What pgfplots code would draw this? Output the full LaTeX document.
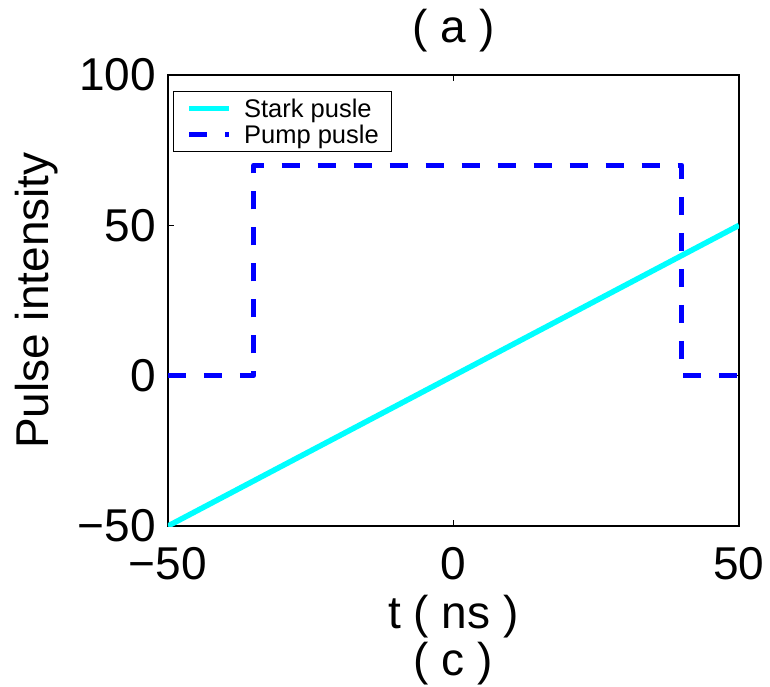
\documentclass[border=0pt]{standalone}
\usepackage{fontspec}
\setmainfont{Liberation Sans}
\usepackage{pgfplots}
\pgfplotsset{compat=1.18}
\usetikzlibrary{calc}
\definecolor{mcyan}{rgb}{0,1,1}
\definecolor{mblue}{rgb}{0,0,1}
\newcommand\bigf{\fontsize{46}{47}\selectfont}
\begin{document}
\begin{tikzpicture}
\begin{axis}[
  scale only axis,
  width=571pt, height=451pt,
  xmin=-50, xmax=50, ymin=-50, ymax=100,
  xtick={-50,0,50}, xticklabels={−50,0,50},
  ytick={-50,0,50,100}, yticklabels={−50,0,50,100},
  tick align=inside,
  major tick length=6pt,
  every tick/.style={black, line width=1pt},
  axis line style={black, line width=1.3pt},
  xticklabel style={font=\bigf, inner sep=0pt, yshift=-21pt},
  yticklabel style={font=\bigf, inner sep=0pt, xshift=-12pt},
  title={( a )},
  title style={font=\bigf, inner sep=0pt, anchor=north, at={($(rel axis cs:0.5,1)+(0,60pt)$)}},
  xlabel={t ( ns )\\( c )},
  xlabel style={font=\bigf, align=center, inner sep=0pt, anchor=north, at={($(rel axis cs:0.5,0)+(0,-69pt)$)}},
  ylabel={Pulse intensity},
  ylabel style={font=\bigf, inner sep=0pt, anchor=north, at={($(rel axis cs:0,0.5)+(-153pt,0)$)}},
  legend cell align=left,
  legend image code/.code={\draw[#1] (0pt,0pt) -- (40pt,0pt);},
  legend style={at={(rel axis cs:0,1)}, anchor=north west, xshift=5pt, yshift=-16pt,
    draw=black, line width=1.3pt, inner xsep=13pt, inner ysep=7pt,
    font=\fontsize{25.5}{29}\selectfont, row sep=6pt,
    nodes={inner sep=0pt},
    /tikz/every odd column/.append style={column sep=12pt}},
]
\addplot[mcyan, line width=5.5pt] coordinates {(-50,-50) (50,50)};
\addlegendentry{Stark pusle}
\addplot[mblue, line width=5pt, dash pattern=on 18pt off 18pt, line join=round] coordinates {(-50,0) (-35,0) (-35,70) (40,70) (40,0) (50,0)};
\addlegendentry{Pump pusle}
\coordinate (sw) at (rel axis cs:0,0);
\coordinate (ne) at (rel axis cs:1,1);
\end{axis}
\path ($(sw)+(-168pt,-160pt)$) rectangle ($(ne)+(31pt,75pt)$);
\end{tikzpicture}
\end{document}
